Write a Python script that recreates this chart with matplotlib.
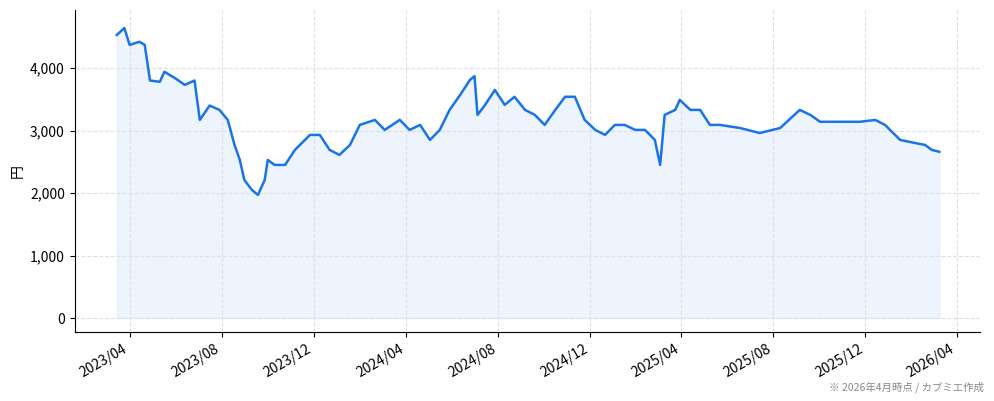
import matplotlib
matplotlib.use("Agg")
import matplotlib.pyplot as plt
import matplotlib.dates as mdates
import pandas as pd

plt.rcParams['font.family'] = ['Noto Sans CJK JP', 'DejaVu Sans']

dates = ["2023-03-15","2023-03-25","2023-04-01","2023-04-14","2023-04-21","2023-04-28","2023-05-11","2023-05-17",
"2023-05-31","2023-06-13","2023-06-26","2023-07-03","2023-07-16","2023-07-29","2023-08-09","2023-08-18",
"2023-08-25","2023-08-31","2023-09-10","2023-09-18","2023-09-27","2023-10-01","2023-10-10","2023-10-24",
"2023-11-06","2023-11-26","2023-12-09","2023-12-22","2024-01-04","2024-01-18","2024-01-31","2024-02-20",
"2024-03-04","2024-03-24","2024-04-06","2024-04-20","2024-05-03","2024-05-16","2024-05-29","2024-06-12",
"2024-06-25","2024-07-01","2024-07-05","2024-07-15","2024-07-28","2024-08-10","2024-08-23","2024-09-06",
"2024-09-19","2024-10-02","2024-10-16","2024-10-29","2024-11-11","2024-11-24","2024-12-08","2024-12-21",
"2025-01-03","2025-01-16","2025-01-30","2025-02-12","2025-02-25","2025-03-04","2025-03-10","2025-03-24",
"2025-03-30","2025-04-13","2025-04-26","2025-05-09","2025-05-22","2025-06-18","2025-07-14","2025-08-10",
"2025-09-05","2025-09-19","2025-10-02","2025-10-28","2025-11-24","2025-12-14","2025-12-27","2026-01-16",
"2026-02-05","2026-02-18","2026-02-27","2026-03-09"]
prices = [4530,4640,4370,4420,4370,3800,3780,3940,
3840,3730,3800,3170,3400,3330,3170,2770,
2530,2210,2050,1970,2210,2530,2450,2450,
2690,2930,2930,2690,2610,2770,3090,3170,
3010,3170,3010,3090,2850,3010,3330,3570,
3810,3870,3250,3410,3650,3410,3540,3330,
3250,3090,3330,3540,3540,3170,3010,2930,
3090,3090,3010,3010,2850,2450,3250,3330,
3490,3330,3330,3090,3090,3040,2960,3040,
3330,3250,3140,3140,3140,3170,3090,2850,
2800,2770,2690,2660]
yticks = [0, 1000, 2000, 3000, 4000]

x = pd.to_datetime(dates)
fig = plt.figure(figsize=(9.94, 4.01), dpi=100)
ax = fig.add_axes([0.075, 0.172, 0.911, 0.803])
ax.fill_between(x, prices, 0, color='#1a73e8', alpha=0.08, linewidth=0.8)
ax.plot(x, prices, color='#1a73e8', linewidth=1.8)
ax.set_ylim(-224, 4928)
ax.set_xlim(pd.Timestamp("2023-01-18"), pd.Timestamp("2026-05-02"))
ax.set_yticks(yticks)
ax.set_yticklabels([f"{v:,}" for v in yticks], fontsize=10)
ax.xaxis.set_major_locator(mdates.MonthLocator(bymonth=[4, 8, 12]))
ax.xaxis.set_major_formatter(mdates.DateFormatter("%Y/%m"))
plt.setp(ax.get_xticklabels(), rotation=30, ha='right', fontsize=10)
ax.grid(True, linestyle='--', color='#dde1e6', linewidth=0.8)
ax.spines['top'].set_visible(False)
ax.spines['right'].set_visible(False)
ax.set_ylabel("円", fontsize=10)
fig.text(0.99, 0.02, "※ 2026年4月時点 / カブミエ作成", ha='right', va='bottom', fontsize=7.5, color='#888888')
fig.savefig("out.png", dpi=100)
